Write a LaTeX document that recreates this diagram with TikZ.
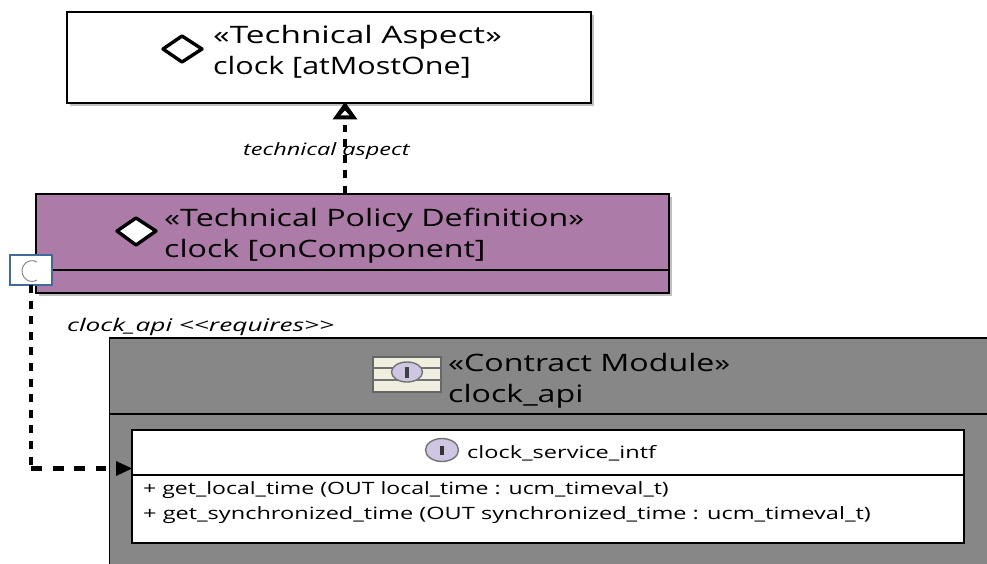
\documentclass[tikz,border=0pt]{standalone}
\usepackage{fontspec}
\setmainfont[FakeStretch=1.34]{Open Sans}
\newfontfamily\narrowtitle[FakeStretch=1.27]{Open Sans}
\newfontfamily\widetitle[FakeStretch=1.39]{Open Sans}
\newfontfamily\smalltext[FakeStretch=1.385]{Open Sans}
\newfontfamily\optext[FakeStretch=1.355]{Open Sans}
\newfontfamily\widelabel[FakeStretch=1.5]{Open Sans}
\definecolor{purplebox}{HTML}{AC7BA8}
\definecolor{greybox}{HTML}{878787}
\definecolor{portblue}{HTML}{3F6A9E}
\definecolor{ifacefill}{HTML}{CFC6E3}
\definecolor{modfill}{HTML}{F0EFDF}
\tikzset{
  x=1pt,y=-1pt,
  umlbox/.style={draw=black,line width=2.2pt,inner sep=0,outer sep=0,anchor=north west},
  title/.style={anchor=west,align=left,inner sep=0,font=\fontsize{24}{31}\selectfont},
  small/.style={anchor=west,inner sep=0,font=\smalltext\fontsize{17}{23}\selectfont},
  edgelabel/.style={anchor=west,inner sep=0,font=\smalltext\itshape\fontsize{17}{20}\selectfont},
  vdash/.style={line width=4.2pt,dash pattern=on 8pt off 7.6pt},
  hdash/.style={line width=4.2pt,dash pattern=on 11pt off 10.6pt},
  diamondicon/.style={draw=black,line width=3.4pt,fill=white,line join=round},
  ifaceicon/.style={ellipse,draw=black!55,line width=1.4pt,fill=ifacefill,inner sep=0,outer sep=0},
}
\usetikzlibrary{shapes.geometric}
\begin{document}
\begin{tikzpicture}
\useasboundingbox (0,0) rectangle (987,564);
% top box
\fill[black!25] (70,15) rectangle (594,106);
\node[umlbox,fill=white,minimum width=524pt,minimum height=91pt] (aspect) at (67,12) {};
\draw[diamondicon] (163,49)--(182,36)--(202,49)--(182,62)--cycle;
\node[title] (aspecttext) at (213,52) {{\widetitle «Technical Aspect»}\\{\narrowtitle clock [atMostOne]}};
% policy box
\fill[black!25] (39,197) rectangle (672,296);
\node[umlbox,fill=purplebox,minimum width=633pt,minimum height=99pt] (policy) at (36,194) {};
\draw[line width=2.2pt] (policy.west |- 0,270) -- (policy.east |- 0,270);
\draw[diamondicon] (117,231)--(136,218)--(156,231)--(136,245)--cycle;
\node[title] (policytext) at (164,236) {«Technical Policy Definition»\\clock [onComponent]};
% port
\node[draw=portblue,line width=1.4pt,fill=white,minimum width=42pt,minimum height=30pt,inner sep=0,outer sep=0,anchor=north west] (port) at (10,255) {};
\draw[black!50,line width=.9pt] (37,262) arc[start angle=60,end angle=300,x radius=10pt,y radius=10.4pt];
% module
\node[umlbox,fill=greybox,line width=1.6pt,minimum width=900pt,minimum height=240pt] (module) at (109.5,338) {};
\draw[line width=2.2pt] (module.west |- 0,414) -- (987,414);
\node[draw=black!60,line width=1.2pt,fill=modfill,minimum width=68pt,minimum height=35pt,inner sep=0,outer sep=0,anchor=north west] (modicon) at (373,357) {};
\draw[black!55,line width=1.6pt] (373,368)--(441,368) (373,380)--(441,380);
\node[ifaceicon,minimum width=31pt,minimum height=20pt] (modiface) at (407,372) {};
\fill[black!75] (404.5,367) rectangle (408.5,378);
\node[title] (moduletext) at (448,381) {«Contract Module»\\clock\_api};
% interface
\node[umlbox,fill=white,minimum width=832pt,minimum height=113pt] (iface) at (132,430) {};
\draw[line width=2.2pt] (iface.west |- 0,475) -- (iface.east |- 0,475);
\node[ifaceicon,minimum width=33pt,minimum height=23pt] (ifaceicon1) at (442,450) {};
\fill[black!80] (440,445.5) rectangle (444,455);
\node[small] (ifacename) at (467,453) {clock\_service\_intf};
\node[small,font=\optext\fontsize{17}{23}\selectfont] at (143,490) (op1) {+ get\_local\_time (OUT local\_time : ucm\_timeval\_t)};
\node[small] at (143,515) (op2) {+ get\_synchronized\_time (OUT synchronized\_time : ucm\_timeval\_t)};
% connectors
\coordinate (bend) at (31,468.5);
\draw[vdash] (port.south -| bend) -- (bend);
\draw[hdash] (bend) -- (106,468.5);
\fill[black] (116,461)--(iface.west |- 0,468.5)--(116,476)--cycle;
\coordinate (aspectfoot) at (345,194);
\draw[vdash] (aspectfoot) -- (345,125);
\fill[black] (345,102)--(332.5,119.5)--(357.5,119.5)--cycle;
\fill[white] (345,110.5)--(340.5,115.5)--(349.5,115.5)--cycle;
% labels
\node[edgelabel] (techlabel) at (243,151) {technical aspect};
\node[anchor=west,inner sep=0,font=\widelabel\itshape\fontsize{17.5}{20}\selectfont] (reqlabel) at (67,327) {clock\_api <{}<requires>{}>};
\end{tikzpicture}
\end{document}
